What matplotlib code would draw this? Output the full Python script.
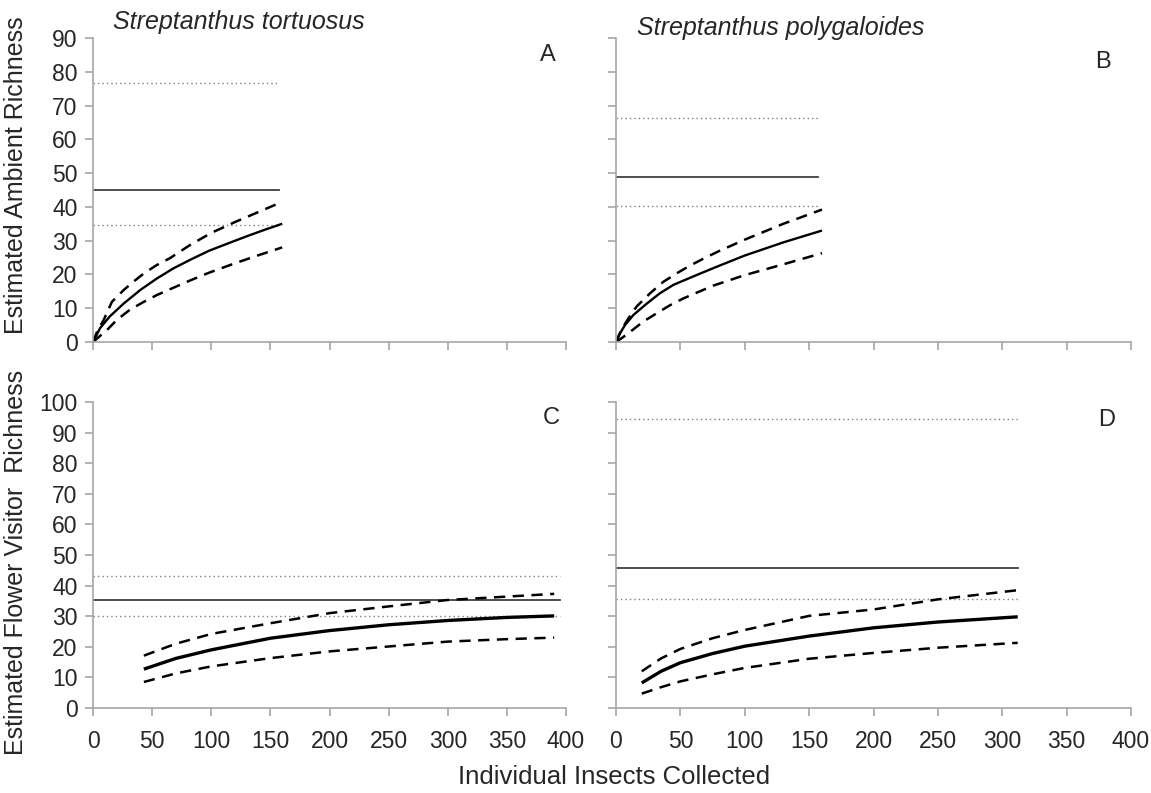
import matplotlib
matplotlib.use("Agg")
import matplotlib.pyplot as plt

plt.rcParams['font.family'] = ['Liberation Sans', 'DejaVu Sans']

# ---- Panel A: S. tortuosus, ambient insects ----
a_mean_x = [0, 6, 14, 26, 40, 54, 68, 82, 98, 115, 130, 145, 160]
a_mean = [0, 4.1, 7.5, 11.4, 15.4, 18.8, 21.8, 24.3, 27.0, 29.3, 31.3, 33.2, 35.0]
a_upper_x = [0, 4, 9, 16, 26, 34, 43, 54, 65, 82, 100, 120, 140, 160]
a_upper = [0, 3.5, 6.5, 11.9, 15.4, 17.8, 20.3, 22.8, 24.8, 28.7, 32.3, 35.5, 38.5, 41.5]
a_lower_x = [0, 5, 12, 20, 31, 43, 54, 65, 82, 98, 120, 140, 160]
a_lower = [0, 1.5, 3.6, 6.5, 9.5, 11.9, 13.9, 15.6, 18.2, 20.5, 23.3, 25.7, 28.0]
a_est, a_est_hi, a_est_lo = 45.0, 76.8, 34.6
a_ref_end = 157

# ---- Panel B: S. polygaloides, ambient insects ----
b_mean_x = [0, 3, 7, 13.5, 24, 34, 44.5, 55, 65, 79, 100, 130, 160]
b_mean = [0, 2.5, 5.0, 8.0, 11.4, 14.4, 16.9, 18.6, 20.2, 22.4, 25.6, 29.5, 33.0]
b_upper_x = [0, 4, 9.6, 16, 26.4, 36.7, 47, 57.4, 68, 79.4, 100, 130, 160]
b_upper = [0, 3.5, 7.0, 10.5, 14.4, 17.8, 20.3, 22.6, 24.7, 26.8, 30.3, 35.0, 39.2]
b_lower_x = [0, 5, 11, 21, 31.6, 42, 52.3, 62.7, 75.6, 100, 130, 160]
b_lower = [0, 1.3, 3.0, 6.0, 8.5, 10.9, 12.9, 14.6, 16.7, 19.8, 23.0, 26.3]
b_est, b_est_hi, b_est_lo = 48.8, 66.4, 40.3
b_ref_end = 157

# ---- Panel C: S. tortuosus, flower visitors ----
c_x = [43, 70, 100, 150, 200, 250, 300, 350, 390]
c_mean = [12.7, 16.2, 19.0, 22.8, 25.3, 27.2, 28.6, 29.6, 30.1]
c_upper = [17.1, 21.0, 24.2, 27.7, 31.0, 33.2, 35.3, 36.4, 37.3]
c_lower = [8.5, 11.3, 13.6, 16.3, 18.5, 20.1, 21.7, 22.5, 23.0]
c_est, c_est_hi, c_est_lo = 35.3, 43.2, 30.1
c_ref_end = 395

# ---- Panel D: S. polygaloides, flower visitors ----
d_x = [20, 35, 50, 75, 100, 150, 200, 250, 312]
d_mean = [8.2, 12.0, 14.8, 17.8, 20.2, 23.5, 26.2, 28.1, 29.8]
d_upper = [12.0, 16.2, 19.3, 22.8, 25.5, 30.1, 32.2, 35.5, 38.5]
d_lower = [4.7, 6.8, 8.7, 11.0, 13.1, 16.1, 18.0, 19.7, 21.3]
d_est, d_est_hi, d_est_lo = 45.6, 94.3, 35.5
d_ref_end = 312

x_ticks = list(range(0, 401, 50))
top_y_ticks = list(range(0, 91, 10))
bottom_y_ticks = list(range(0, 101, 10))

W, H = 1151, 793
fig = plt.figure(figsize=(W / 100, H / 100), dpi=100)


def px_axes(x0, x1, y0, y1):
    return fig.add_axes([x0 / W, 1 - y1 / H, (x1 - x0) / W, (y1 - y0) / H])


axA = px_axes(93, 566, 38, 342)
axB = px_axes(616, 1131, 38, 342)
axC = px_axes(93, 566, 402, 708)
axD = px_axes(616, 1131, 402, 708)

spine_col = '#a6a6a6'
text_col = '#262626'


def draw_panel(ax, mx, mean, ux, upper, lx, lower, est, hi, lo, ref_end,
               ymax, yticks, mean_lw):
    ax.plot([0, ref_end], [hi, hi], color='#7f7f7f', lw=1.0, ls=(0, (1, 2.2)))
    ax.plot([0, ref_end], [lo, lo], color='#7f7f7f', lw=1.0, ls=(0, (1, 2.2)))
    ax.plot([0, ref_end], [est, est], color='#404040', lw=1.3)
    ax.plot(ux, upper, color='black', lw=1.8, ls=(0, (4.5, 3)))
    ax.plot(lx, lower, color='black', lw=1.8, ls=(0, (4.5, 3)))
    ax.plot(mx, mean, color='black', lw=mean_lw, solid_capstyle='butt',
            solid_joinstyle='round')
    ax.set_xlim(0, 400)
    ax.set_ylim(0, ymax)
    ax.set_xticks(x_ticks)
    ax.set_yticks(yticks)
    for s in ('top', 'right'):
        ax.spines[s].set_visible(False)
    for s in ('left', 'bottom'):
        ax.spines[s].set_color(spine_col)
        ax.spines[s].set_linewidth(1.2)
    ax.tick_params(axis='both', color=spine_col, width=1.2, length=6,
                   labelsize=16.5, labelcolor=text_col, direction='out')
    ax.tick_params(axis='x', pad=10)
    ax.tick_params(axis='y', pad=5)


draw_panel(axA, a_mean_x, a_mean, a_upper_x, a_upper, a_lower_x, a_lower,
           a_est, a_est_hi, a_est_lo, a_ref_end, 90, top_y_ticks, 1.7)
draw_panel(axB, b_mean_x, b_mean, b_upper_x, b_upper, b_lower_x, b_lower,
           b_est, b_est_hi, b_est_lo, b_ref_end, 90, top_y_ticks, 1.7)
draw_panel(axC, c_x, c_mean, c_x, c_upper, c_x, c_lower,
           c_est, c_est_hi, c_est_lo, c_ref_end, 100, bottom_y_ticks, 2.4)
draw_panel(axD, d_x, d_mean, d_x, d_upper, d_x, d_lower,
           d_est, d_est_hi, d_est_lo, d_ref_end, 100, bottom_y_ticks, 2.4)

for ax in (axA, axB):
    ax.tick_params(axis='x', labelbottom=False)
for ax in (axB, axD):
    ax.tick_params(axis='y', labelleft=False)

# panel letters
for letter, (lx_, ly_) in zip('ABCD', [(548, 55), (1103, 62), (551, 418), (1107, 420)]):
    fig.text(lx_ / W, 1 - ly_ / H, letter, fontsize=17, color=text_col,
             ha='center', va='center')

fig.text(113 / W, 1 - 22 / H, 'Streptanthus tortuosus', fontsize=18,
         style='italic', color=text_col, ha='left', va='center')
fig.text(637 / W, 1 - 28 / H, 'Streptanthus polygaloides', fontsize=18,
         style='italic', color=text_col, ha='left', va='center')

fig.text(16 / W, 1 - 175 / H, 'Estimated Ambient Richness', fontsize=18,
         rotation=90, color=text_col, ha='center', va='center')
fig.text(16 / W, 1 - 562 / H, 'Estimated Flower Visitor  Richness', fontsize=18,
         rotation=90, color=text_col, ha='center', va='center')
fig.text(614 / W, 1 - 777 / H, 'Individual Insects Collected', fontsize=18.5,
         color=text_col, ha='center', va='center')

fig.savefig('out.png', dpi=100)
